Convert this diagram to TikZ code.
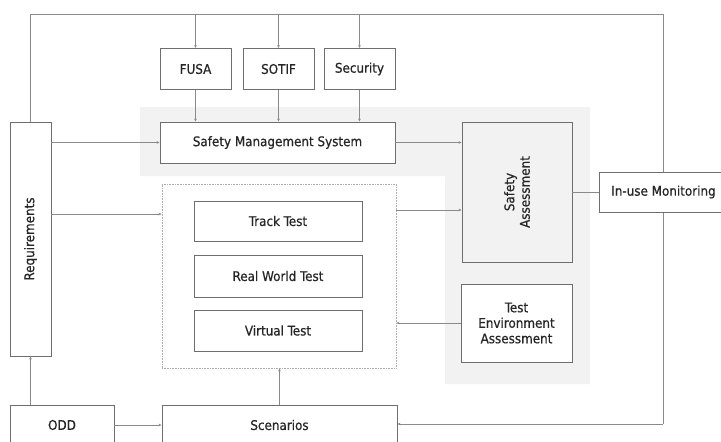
\documentclass[tikz,border=0pt]{standalone}
\usepackage{fontspec}
\setmainfont{DejaVu Sans Condensed}[FakeBold=0.6]
\usetikzlibrary{arrows.meta,backgrounds}
\definecolor{boxc}{HTML}{6E6E6E}
\definecolor{linec}{HTML}{8A8A8A}
\definecolor{txt}{HTML}{262626}
\definecolor{bandgray}{HTML}{F2F2F2}
\begin{document}
\begin{tikzpicture}[x=1pt,y=-1pt,
  box/.style={draw=boxc, line width=0.9pt, fill=white, text=txt,
    font=\fontsize{13.3}{15.5}\selectfont, inner sep=0pt, align=center},
  group/.style={draw=linec!70, line width=0.6pt, densely dotted, inner sep=0pt},
  link/.style={draw=linec, line width=0.8pt},
  arr/.style={link, -{Stealth[length=3pt,width=2.6pt]}}]
\useasboundingbox (0,0) rectangle (721,442);
\clip (0,0) rectangle (721,442);

% light background band behind the safety blocks
\fill[bandgray] (140,107) -- (590,107) -- (590,384) -- (445,384) -- (445,176) -- (140,176) -- cycle;

% standards
\node[box, minimum width=71, minimum height=41] (fusa) at (195.5,69) {FUSA};
\node[box, minimum width=71, minimum height=41] (sotif) at (278.5,69) {SOTIF};
\node[box, minimum width=71, minimum height=41] (sec) at (359.5,69) {Security};

\node[box, minimum width=235, minimum height=41] (sms) at (277.5,142.5) {Safety Management System};
\node[box, minimum width=234, minimum height=41, rotate=90] (req) at (30.5,239) {Requirements};

% test methods
\node[group, minimum width=234, minimum height=184] (tests) at (279,276) {};
\node[box, minimum width=168, minimum height=40] (track) at (278,221) {Track Test};
\node[box, minimum width=168, minimum height=42] (real) at (278,276) {Real World Test};
\node[box, minimum width=168, minimum height=41] (virt) at (278,330.5) {Virtual Test};

\node[box, fill=bandgray, minimum width=140, minimum height=110, rotate=90] (sa) at (517,192) {Safety\\Assessment};
\node[box, minimum width=111, minimum height=78] (tea) at (516.5,323) {Test\\Environment\\Assessment};
\node[box, minimum width=129, minimum height=40] (mon) at (663.5,192) {In-use Monitoring};

\node[box, minimum width=104, minimum height=40] (odd) at (62,425) {ODD};
\node[box, minimum width=235, minimum height=40] (scen) at (279.5,425) {Scenarios};

% feedback loop round the top, running behind the monitoring box
\coordinate (tl) at (30.5,14);
\coordinate (tr) at (663,14);
\coordinate (br) at (663,424);
\begin{pgfonlayer}{background}
\draw[link] (req.east) -- (tl) -- (tr) -- (br);
\end{pgfonlayer}
\draw[arr] (br) -- (br -| scen.east);
\draw[arr] (fusa.north |- tl) -- (fusa.north);
\draw[arr] (sotif.north |- tl) -- (sotif.north);
\draw[arr] (sec.north |- tl) -- (sec.north);

\draw[arr] (fusa) -- (fusa.south |- sms.north);
\draw[arr] (sotif) -- (sotif.south |- sms.north);
\draw[arr] (sec) -- (sec.south |- sms.north);

\draw[arr] (req.south |- sms.west) -- (sms.west);
\draw[arr] (req.south |- 0,214) -- (tests.west |- 0,214);

\draw[arr] (sms.east) -- (sms.east -| sa.north);
\draw[arr] (tests.east |- 0,210) -- (sa.north |- 0,210);
\draw[link] (sa.south) -- (mon.west);
\draw[arr] (tea.west) -- (tea.west -| tests.east);

\draw[arr] (scen.north) -- (scen.north |- tests.south);
\draw[arr] (odd.north -| req.west) -- (req.west);
\draw[arr] (odd.east) -- (odd.east -| scen.west);
\end{tikzpicture}
\end{document}
